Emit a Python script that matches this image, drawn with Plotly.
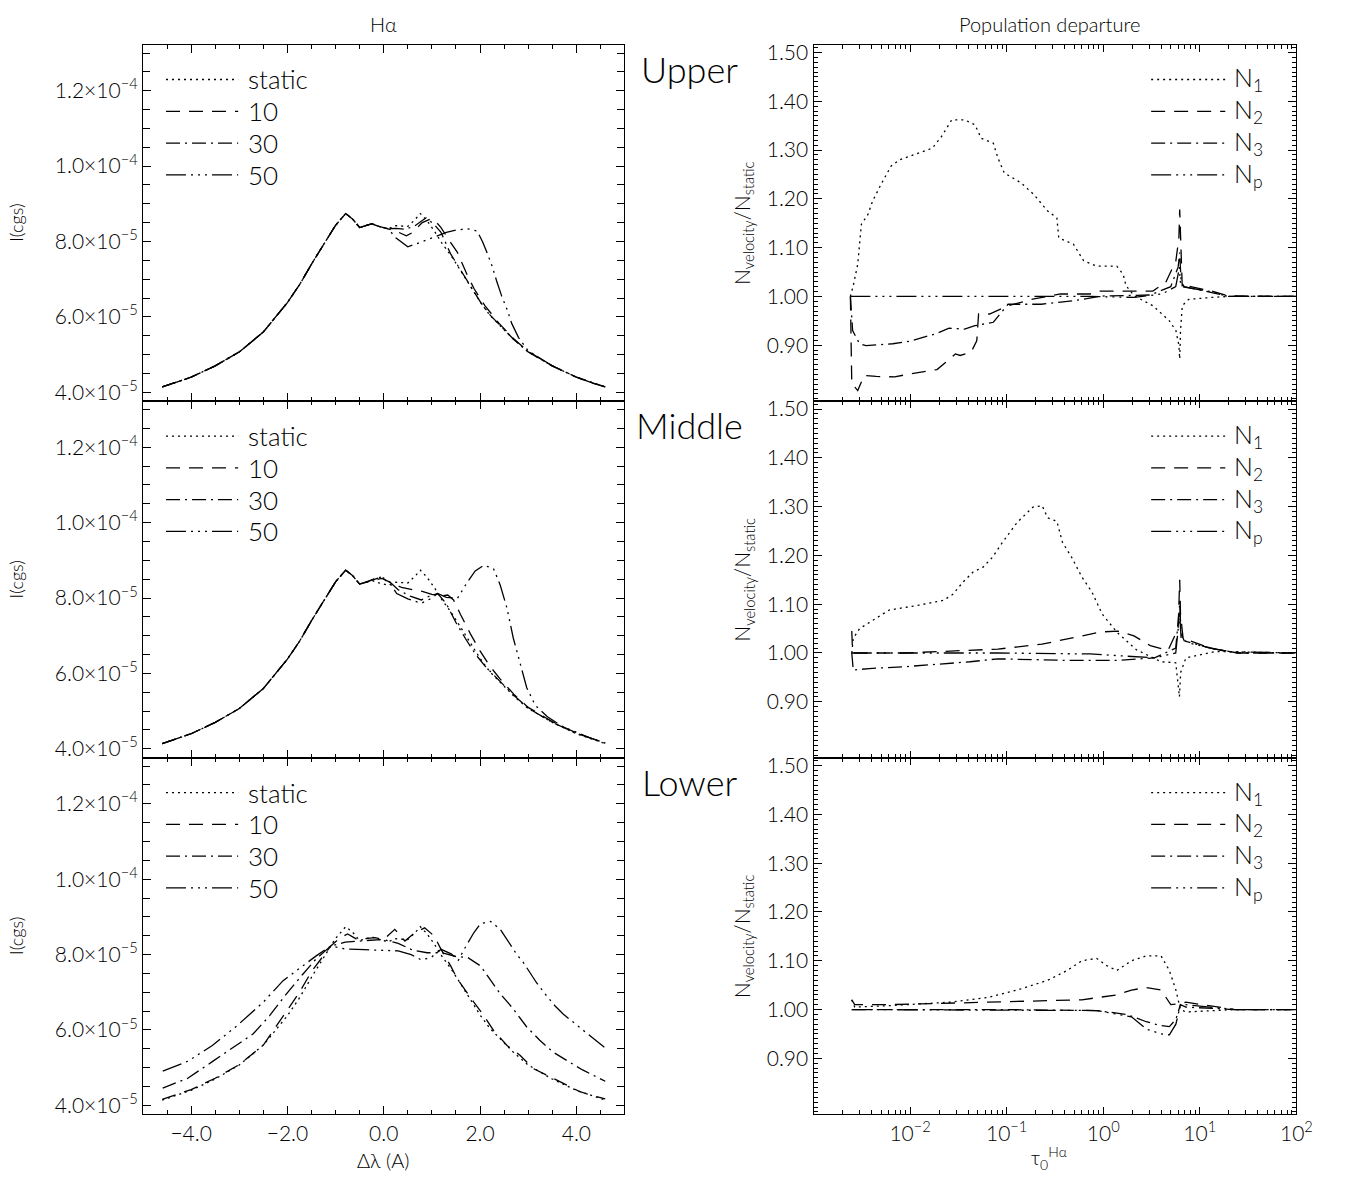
import plotly.graph_objects as go

# ---------------- H-alpha profiles (intensity in units of 1e-5 cgs) ----------------
static_x = [-4.6, -4.3, -4.0, -3.5, -3.0, -2.5, -2.0, -1.75, -1.5, -1.2, -1.0, -0.79, -0.65, -0.5, -0.35,
            -0.25, -0.1, 0.09, 0.25, 0.5, 0.65, 0.76, 0.9, 1.05, 1.2, 1.4, 1.6, 1.8, 2.0, 2.2, 2.4, 2.7,
            3.0, 3.5, 4.0, 4.3, 4.6]
static_y = [4.14, 4.26, 4.40, 4.70, 5.07, 5.60, 6.38, 6.85, 7.40, 8.02, 8.43, 8.74, 8.60, 8.37, 8.43,
            8.47, 8.40, 8.34, 8.42, 8.40, 8.58, 8.74, 8.55, 8.28, 7.97, 7.62, 7.22, 6.80, 6.40, 6.05, 5.78, 5.40,
            5.07, 4.70, 4.40, 4.26, 4.14]

wing_x = [-4.6, -4.3, -4.0, -3.5, -3.0, -2.5, -2.0, -1.75, -1.5, -1.2, -1.0, -0.79, -0.65, -0.5, -0.35, -0.25, -0.1, 0.09]
wing_y = [4.14, 4.26, 4.40, 4.70, 5.07, 5.60, 6.38, 6.85, 7.40, 8.02, 8.43, 8.74, 8.60, 8.37, 8.43, 8.47, 8.40, 8.34]

up10_x = wing_x + [0.25, 0.47, 0.6, 0.8, 0.98, 1.1, 1.19, 1.35, 1.53, 1.74, 1.88, 2.1, 2.4, 2.7, 3.0, 3.5, 4.0, 4.3, 4.6]
up10_y = wing_y + [8.28, 8.15, 8.24, 8.50, 8.60, 8.50, 8.37, 8.05, 7.71, 7.09, 6.74, 6.30, 5.82, 5.42, 5.08, 4.70, 4.40, 4.26, 4.14]
up30_x = wing_x + [0.25, 0.45, 0.65, 0.88, 1.05, 1.19, 1.39, 1.6, 1.81, 2.01, 2.2, 2.42, 2.7, 3.0, 3.5, 4.0, 4.3, 4.6]
up30_y = wing_y + [8.35, 8.32, 8.42, 8.63, 8.45, 8.24, 7.67, 7.23, 6.79, 6.39, 6.06, 5.78, 5.40, 5.07, 4.70, 4.40, 4.26, 4.14]
up50_x = wing_x + [0.25, 0.5, 0.75, 1.0, 1.12, 1.3, 1.5, 1.73, 1.94, 2.05, 2.14, 2.25, 2.35, 2.45, 2.56, 2.66, 2.8, 3.0,
                   3.5, 4.0, 4.3, 4.6]
up50_y = wing_y + [8.10, 7.86, 7.97, 8.10, 8.15, 8.24, 8.30, 8.34, 8.28, 8.00, 7.72, 7.35, 6.93, 6.55, 6.20, 5.82, 5.45, 5.10,
                   4.70, 4.40, 4.26, 4.14]

mwing_x = wing_x[:15]
mwing_y = wing_y[:15]
mid10_x = mwing_x + [-0.18, -0.04, 0.15, 0.37, 0.6, 0.8, 1.0, 1.15, 1.33, 1.45, 1.6, 1.8, 2.0, 2.2, 2.42, 2.7, 3.0, 3.5,
                     4.0, 4.3, 4.6]
mid10_y = mwing_y + [8.48, 8.52, 8.40, 8.28, 8.22, 8.18, 8.10, 8.05, 8.08, 7.95, 7.55, 7.05, 6.60, 6.20, 5.85, 5.45, 5.10, 4.72,
                     4.42, 4.28, 4.15]
mid30_x = mwing_x + [-0.18, -0.04, 0.15, 0.3, 0.55, 0.78, 0.95, 1.12, 1.3, 1.5, 1.7, 1.9, 2.1, 2.4, 2.7, 3.0, 3.5, 4.0,
                     4.3, 4.6]
mid30_y = mwing_y + [8.50, 8.56, 8.40, 8.22, 8.05, 7.95, 8.05, 8.12, 7.85, 7.35, 6.92, 6.52, 6.20, 5.82, 5.42, 5.08, 4.70, 4.41,
                     4.27, 4.15]
mid50_x = mwing_x + [-0.18, -0.04, 0.15, 0.27, 0.5, 0.78, 1.0, 1.12, 1.3, 1.53, 1.74, 1.9, 2.08, 2.28, 2.42, 2.56, 2.69,
                     2.83, 2.97, 3.15, 3.4, 3.7, 4.0, 4.3, 4.6]
mid50_y = mwing_y + [8.52, 8.56, 8.35, 8.12, 7.98, 7.86, 8.00, 8.12, 8.02, 7.99, 8.43, 8.72, 8.87, 8.78, 8.34, 7.73, 6.94,
                     6.24, 5.62, 5.15, 4.85, 4.60, 4.43, 4.28, 4.16]

low10_x = [-4.6, -4.3, -4.0, -3.5, -3.0, -2.5, -2.0, -1.75, -1.5, -1.27, -1.1, -0.9, -0.75, -0.55, -0.35, -0.18, 0.0,
           0.23, 0.44, 0.64, 0.85, 1.05, 1.19, 1.39, 1.53, 1.67, 1.87, 2.08, 2.28, 2.56, 2.83, 3.1, 3.38, 3.72,
           4.06, 4.3, 4.6]
low10_y = [4.16, 4.28, 4.42, 4.72, 5.08, 5.60, 6.55, 7.00, 7.55, 7.96, 8.23, 8.45, 8.55, 8.40, 8.42, 8.45, 8.40,
           8.67, 8.36, 8.58, 8.71, 8.49, 8.14, 7.70, 7.35, 7.09, 6.74, 6.38, 5.99, 5.59, 5.33, 4.98, 4.81, 4.59,
           4.37, 4.27, 4.17]
low30_x = [-4.59, -4.07, -3.56, -3.05, -2.71, -2.37, -2.02, -1.68, -1.41, -1.1, -0.8, -0.4, 0.0, 0.3, 0.6, 0.9,
           1.2, 1.5, 1.75, 2.01, 2.18, 2.42, 2.69, 2.97, 3.24, 3.51, 3.79, 4.13, 4.6]
low30_y = [4.46, 4.72, 5.16, 5.59, 5.90, 6.38, 6.96, 7.48, 7.88, 8.23, 8.33, 8.37, 8.40, 8.30, 8.12, 8.05,
           8.05, 7.95, 7.92, 7.70, 7.39, 6.96, 6.56, 6.08, 5.73, 5.42, 5.20, 4.94, 4.64]
low50_x = [-4.59, -4.07, -3.56, -3.05, -2.5, -2.09, -1.68, -1.41, -1.1, -0.8, -0.4, 0.0, 0.3, 0.57, 0.78, 0.98,
           1.19, 1.4, 1.55, 1.67, 1.87, 2.01, 2.22, 2.42, 2.56, 2.76, 2.9, 3.17, 3.38, 3.55, 3.72, 4.06, 4.33, 4.6]
low50_y = [4.91, 5.17, 5.59, 6.11, 6.74, 7.31, 7.70, 7.96, 8.23, 8.15, 8.13, 8.12, 8.10, 8.00, 7.86, 7.92,
           8.14, 8.02, 7.85, 8.14, 8.58, 8.82, 8.88, 8.67, 8.40, 8.01, 7.79, 7.26, 6.91, 6.65, 6.43, 6.08, 5.82, 5.52]

# ---------------- Population departure (tau_0^Halpha, N_velocity/N_static) ----------------
up_n1_t = [0.00241, 0.00258, 0.00287, 0.00313, 0.00366, 0.00408, 0.00498, 0.00634, 0.00773, 0.01225, 0.0170, 0.0212,
           0.0270, 0.0367, 0.0469, 0.0546, 0.0728, 0.0811, 0.0946, 0.1406, 0.191, 0.266, 0.331, 0.346, 0.492, 0.627,
           0.853, 1.38, 1.61, 1.72, 2.10, 3.26, 4.84, 5.65, 6.07, 6.19, 6.31, 6.58, 7.67, 13.3, 19.8, 100]
up_n1_v = [1.0, 1.022, 1.066, 1.148, 1.168, 1.195, 1.229, 1.267, 1.280, 1.294, 1.304, 1.328,
           1.362, 1.362, 1.352, 1.324, 1.314, 1.284, 1.253, 1.233, 1.209, 1.175, 1.161, 1.12, 1.107, 1.073,
           1.062, 1.062, 1.045, 1.022, 1.001, 0.981, 0.950, 0.930, 0.90, 0.872, 0.93, 0.981, 0.994, 0.998, 1.0, 1.0]
up_n2_t = [0.00241, 0.00245, 0.00249, 0.00268, 0.00287, 0.00335, 0.00446, 0.00692, 0.00984, 0.0190, 0.0253, 0.0295,
           0.0330, 0.0429, 0.0490, 0.0512, 0.0665, 0.0811, 0.1033, 0.191, 0.361, 0.731, 0.931, 3.26, 4.44, 5.65, 6.07,
           6.19, 6.31, 6.58, 7.18, 13.3, 19.8, 100]
up_n2_v = [1.0, 0.90, 0.82, 0.814, 0.807, 0.838, 0.836, 0.835, 0.841, 0.850, 0.872, 0.882,
           0.879, 0.886, 0.909, 0.964, 0.964, 0.971, 0.981, 0.995, 1.005, 1.005, 1.011, 1.011, 1.029, 1.073, 1.12,
           1.178, 1.12, 1.018, 1.022, 1.011, 1.001, 1.0]
up_n3_t = [0.00241, 0.00254, 0.00300, 0.00350, 0.00662, 0.00984, 0.0182, 0.0253, 0.0367, 0.0469, 0.0728, 0.1033,
           0.228, 0.492, 0.853, 1.038, 3.07, 5.0, 5.96, 6.19, 6.40, 6.89, 13.3, 19.8, 100]
up_n3_v = [1.0, 0.93, 0.903, 0.899, 0.903, 0.908, 0.923, 0.935, 0.933, 0.94, 0.947, 0.984,
           0.984, 0.991, 0.999, 1.001, 1.003, 1.02, 1.06, 1.09, 1.03, 1.02, 1.008, 1.0, 1.0]
up_np_t = [0.00241, 0.0811, 0.731, 2.08, 4.05, 5.63, 6.15, 6.28, 6.58, 12.8, 19.8, 100]
up_np_v = [1.0, 1.0, 1.0, 0.998, 1.005, 1.02, 1.06, 1.03, 1.02, 1.01, 1.0, 1.0]

mid_n1_t = [0.00249, 0.00258, 0.00300, 0.00607, 0.01225, 0.0222, 0.0276, 0.0352, 0.0449, 0.0570, 0.0711, 0.0906,
            0.1288, 0.187, 0.233, 0.266, 0.331, 0.378, 0.471, 0.600, 0.764, 0.973, 1.38, 2.19, 3.97, 5.63, 6.15,
            6.33, 7.18, 14.5, 100]
mid_n1_v = [1.0, 1.03, 1.05, 1.088, 1.098, 1.108, 1.12, 1.145, 1.166, 1.176, 1.196, 1.227, 1.268,
            1.299, 1.302, 1.277, 1.27, 1.227, 1.196, 1.156, 1.125, 1.08, 1.043, 1.007, 0.982, 0.98, 0.91, 0.96, 0.99,
            1.003, 1.0]
mid_n2_t = [0.00249, 0.00254, 0.00901, 0.0811, 0.232, 0.590, 0.94, 1.42, 2.08, 3.07, 4.68, 5.96, 6.19, 6.31, 6.71,
            12.8, 24.7, 100]
mid_n2_v = [1.045, 1.0, 1.0, 1.008, 1.018, 1.035, 1.043, 1.045, 1.035, 1.015, 1.005, 1.05, 1.15, 1.08, 1.03, 1.01,
            1.0, 1.0]
mid_n3_t = [0.00249, 0.00258, 0.00376, 0.00901, 0.0419, 0.0811, 0.377, 1.42, 3.40, 5.63, 6.19, 6.40, 6.89, 12.8,
            24.7, 100]
mid_n3_v = [1.0, 0.965, 0.968, 0.972, 0.982, 0.988, 0.985, 0.985, 0.99, 1.01, 1.1, 1.04, 1.025, 1.01, 1.0, 1.0]
mid_np_t = [0.00249, 0.0811, 0.731, 3.40, 5.63, 6.19, 6.40, 7.83, 18.8, 100]
mid_np_v = [1.0, 1.0, 0.998, 0.99, 1.0, 1.08, 1.03, 1.02, 1.003, 1.0]

low_n1_t = [0.00249, 0.00267, 0.00607, 0.0253, 0.0640, 0.1288, 0.266, 0.422, 0.600, 0.853, 1.086, 1.38, 1.96, 2.79,
            3.97, 4.84, 5.65, 6.30, 7.18, 23.1, 100]
low_n1_v = [1.02, 1.005, 1.008, 1.015, 1.025, 1.04, 1.06, 1.08, 1.10, 1.105, 1.09, 1.08, 1.10, 1.11, 1.11,
            1.08, 1.04, 1.0, 0.995, 1.0, 1.0]
low_n2_t = [0.00249, 0.00267, 0.00607, 0.0640, 0.600, 1.38, 1.96, 2.79, 3.97, 5.0, 6.30, 7.18, 23.1, 100]
low_n2_v = [1.02, 1.01, 1.01, 1.015, 1.02, 1.03, 1.04, 1.045, 1.04, 1.01, 1.012, 1.015, 1.0, 1.0]
low_n3_t = [0.00249, 0.0811, 0.853, 1.75, 2.79, 3.97, 4.84, 5.65, 6.30, 7.18, 23.1, 100]
low_n3_v = [1.0, 1.0, 0.998, 0.99, 0.975, 0.967, 0.965, 0.98, 1.01, 1.005, 1.0, 1.0]
low_np_t = [0.00249, 0.0811, 0.853, 1.96, 2.79, 3.97, 4.84, 5.65, 6.30, 7.18, 23.1, 100]
low_np_v = [1.0, 0.999, 0.998, 0.985, 0.96, 0.95, 0.948, 0.97, 1.01, 1.01, 1.0, 1.0]

# ---------------- labels ----------------
row_names = ["Upper", "Middle", "Lower"]
prof_labels = ["static", "10", "30", "50"]
pop_labels = ["N<sub>1</sub>", "N<sub>2</sub>", "N<sub>3</sub>", "N<sub>p</sub>"]
lam_ticks = [-4, -2, 0, 2, 4]
lam_ticktext = ["\u22124.0", "\u22122.0", "0.0", "2.0", "4.0"]
int_ticks = [4e-5, 6e-5, 8e-5, 1.0e-4, 1.2e-4]
int_ticktext = ["4.0\u00d710<sup>\u22125</sup>", "6.0\u00d710<sup>\u22125</sup>", "8.0\u00d710<sup>\u22125</sup>",
                "1.0\u00d710<sup>\u22124</sup>", "1.2\u00d710<sup>\u22124</sup>"]
tau_ticks = [0.01, 0.1, 1, 10, 100]
tau_ticktext = ["10<sup>\u22122</sup>", "10<sup>\u22121</sup>", "10<sup>0</sup>", "10<sup>1</sup>", "10<sup>2</sup>"]
dep_ticks = [0.9, 1.0, 1.1, 1.2, 1.3, 1.4, 1.5]
dep_ticktext = ["0.90", "1.00", "1.10", "1.20", "1.30", "1.40", "1.50"]

FONT = "Lato, 'Open Sans', 'DejaVu Sans', sans-serif"
WT = 300


def fnt(size):
    return dict(family=FONT, size=size, color="black", weight=WT)


DASHES = ["2px,4px", "14px,9px", "14px,5px,2px,5px", "20px,5px,2px,5px,2px,5px,2px,5px"]
LW = 1.3

profiles = [
    [(static_x, static_y), (up10_x, up10_y), (up30_x, up30_y), (up50_x, up50_y)],
    [(static_x, static_y), (mid10_x, mid10_y), (mid30_x, mid30_y), (mid50_x, mid50_y)],
    [(static_x, static_y), (low10_x, low10_y), (low30_x, low30_y), (low50_x, low50_y)],
]
pops = [
    [(up_n1_t, up_n1_v), (up_n2_t, up_n2_v), (up_n3_t, up_n3_v), (up_np_t, up_np_v)],
    [(mid_n1_t, mid_n1_v), (mid_n2_t, mid_n2_v), (mid_n3_t, mid_n3_v), (mid_np_t, mid_np_v)],
    [(low_n1_t, low_n1_v), (low_n2_t, low_n2_v), (low_n3_t, low_n3_v), (low_np_t, low_np_v)],
]

W, H = 1346, 1178
LX0, LX1 = 144.7, 632.0
RX0, RX1 = 823.3, 1312.0
TOP, PH = 39.0, 359.0

fig = go.Figure()
layout = dict(width=W, height=H, margin=dict(l=0, r=0, t=0, b=0), showlegend=False,
              paper_bgcolor="white", plot_bgcolor="white", font=fnt(18))
shapes, annotations = [], []

for r in range(3):
    top = TOP + r * PH
    bot = top + PH
    ydom = [1 - bot / H, 1 - top / H]
    li = 2 * r + 1
    ri = 2 * r + 2
    lx = "x" if li == 1 else f"x{li}"
    ly = "y" if li == 1 else f"y{li}"
    rx, ry = f"x{ri}", f"y{ri}"
    last = (r == 2)

    for k, (xs, ys) in enumerate(profiles[r]):
        fig.add_trace(go.Scatter(x=xs, y=[v * 1e-5 for v in ys], mode="lines", xaxis=lx, yaxis=ly,
                                 line=dict(color="black", width=LW, dash=DASHES[k])))
    for k, (ts, vs) in enumerate(pops[r]):
        fig.add_trace(go.Scatter(x=ts, y=vs, mode="lines", xaxis=rx, yaxis=ry,
                                 line=dict(color="black", width=LW, dash=DASHES[k])))

    common = dict(showline=True, linecolor="black", linewidth=1.2, mirror="allticks", ticks="inside",
                  showgrid=False, zeroline=False, tickcolor="black", tickwidth=1.1, tickfont=fnt(21))
    layout["xaxis" if li == 1 else f"xaxis{li}"] = dict(
        common, domain=[LX0 / W, LX1 / W], anchor=ly, range=[-5, 5], tickmode="array",
        tickvals=lam_ticks, ticktext=lam_ticktext, ticklen=8, showticklabels=last,
        minor=dict(ticks="inside", dtick=0.5, tick0=0, ticklen=4, tickcolor="black", tickwidth=1.1))
    layout["yaxis" if li == 1 else f"yaxis{li}"] = dict(
        common, domain=ydom, anchor=lx, range=[3.76e-5, 13.22e-5], tickmode="array",
        tickvals=int_ticks, ticktext=int_ticktext, ticklen=8,
        minor=dict(ticks="inside", dtick=0.5e-5, tick0=0, ticklen=7, tickcolor="black", tickwidth=1.1))
    layout[f"xaxis{ri}"] = dict(
        common, type="log", domain=[RX0 / W, RX1 / W], anchor=ry, range=[-3, 2], tickmode="array",
        tickvals=tau_ticks, ticktext=tau_ticktext, ticklen=7, showticklabels=last,
        minor=dict(ticks="inside", tickmode="array",
                   tickvals=[m * 10.0 ** e for e in range(-3, 2) for m in range(2, 10)],
                   ticklen=4, tickcolor="black", tickwidth=1.1))
    layout[f"yaxis{ri}"] = dict(
        common, domain=ydom, anchor=rx, range=[0.785, 1.516], tickmode="array",
        tickvals=dep_ticks, ticktext=dep_ticktext, ticklen=8,
        minor=dict(ticks="inside", dtick=0.01, tick0=0, ticklen=4, tickcolor="black", tickwidth=1.0))

    # in-panel legends
    for k in range(4):
        yy = (bot - (74 + 32 * k + r * PH)) / PH
        shapes.append(dict(type="line", xref=f"{lx} domain", yref=f"{ly} domain",
                           x0=(168 - LX0) / (LX1 - LX0), x1=(241 - LX0) / (LX1 - LX0), y0=yy, y1=yy,
                           line=dict(color="black", width=LW, dash=DASHES[k])))
        annotations.append(dict(xref=f"{lx} domain", yref=f"{ly} domain", x=(250 - LX0) / (LX1 - LX0), y=yy,
                                text=prof_labels[k], showarrow=False, xanchor="left", yanchor="middle",
                                font=fnt(26), borderpad=0))
        shapes.append(dict(type="line", xref=f"{rx} domain", yref=f"{ry} domain",
                           x0=(1165 - RX0) / (RX1 - RX0), x1=(1240 - RX0) / (RX1 - RX0), y0=yy, y1=yy,
                           line=dict(color="black", width=LW, dash=DASHES[k])))
        annotations.append(dict(xref=f"{rx} domain", yref=f"{ry} domain", x=(1248 - RX0) / (RX1 - RX0), y=yy,
                                text=pop_labels[k], showarrow=False, xanchor="left", yanchor="middle",
                                font=fnt(25), borderpad=0))

    # row name
    annotations.append(dict(xref="paper", yref="paper", x=698 / W, y=1 - (top + 24) / H, text=row_names[r],
                            showarrow=False, xanchor="center", yanchor="middle", font=fnt(36)))
    # y titles
    mid = top + PH / 2
    annotations.append(dict(xref="paper", yref="paper", x=16 / W, y=1 - mid / H, text="I(cgs)", textangle=-90,
                            showarrow=False, xanchor="center", yanchor="middle", font=fnt(18)))
    annotations.append(dict(xref="paper", yref="paper", x=752 / W, y=1 - mid / H,
                            text="N<sub>velocity</sub>/N<sub>static</sub>", textangle=-90,
                            showarrow=False, xanchor="center", yanchor="middle", font=fnt(21)))

annotations.append(dict(xref="paper", yref="paper", x=388 / W, y=1 - 18 / H, text="H\u03b1", showarrow=False,
                        xanchor="center", yanchor="middle", font=fnt(20)))
annotations.append(dict(xref="paper", yref="paper", x=1062 / W, y=1 - 18 / H, text="Population departure",
                        showarrow=False, xanchor="center", yanchor="middle", font=fnt(20)))
annotations.append(dict(xref="paper", yref="paper", x=388 / W, y=1 - 1162 / H, text="\u0394\u03bb (A)",
                        showarrow=False, xanchor="center", yanchor="middle", font=fnt(20)))
annotations.append(dict(xref="paper", yref="paper", x=1062 / W, y=1 - 1160 / H,
                        text="\u03c4<sub>0</sub><sup>H\u03b1</sup>",
                        showarrow=False, xanchor="center", yanchor="middle", font=fnt(20)))

layout["shapes"] = shapes
layout["annotations"] = annotations
fig.update_layout(**layout)
fig.write_html("out.html")
